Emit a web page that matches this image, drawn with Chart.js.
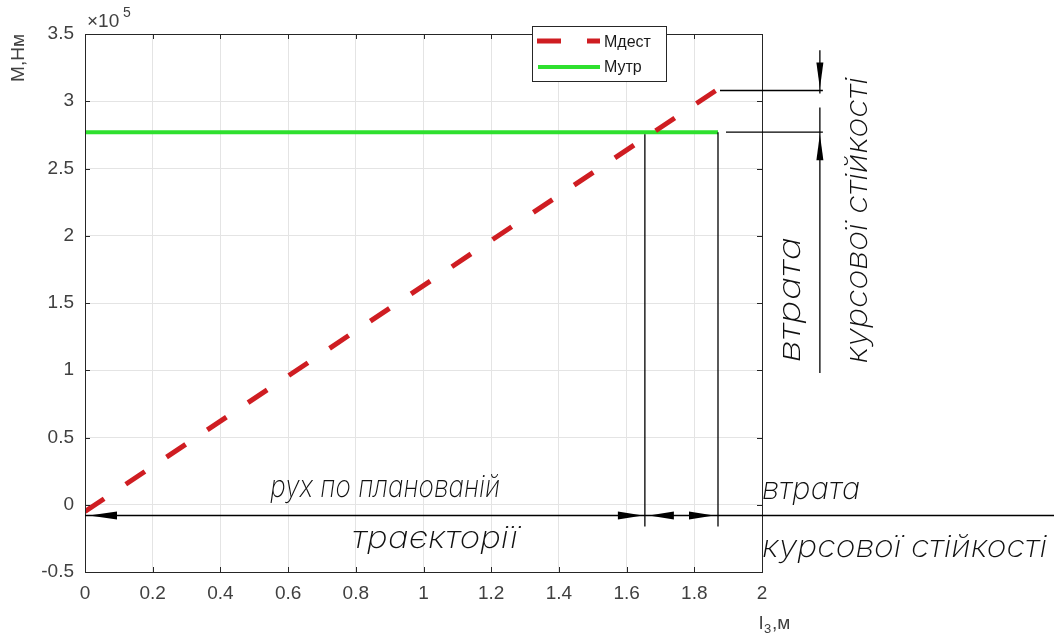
<!DOCTYPE html>
<html>
<head>
<meta charset="utf-8">
<script src="https://cdn.jsdelivr.net/npm/chart.js@4/dist/chart.umd.min.js"></script>
<style>
body { margin: 0; background: #fff; }
</style>
</head>
<body>
<canvas id="grafico" width="1054" height="637"></canvas>
<script>
// дані графіка
var xTicks = [0, 0.2, 0.4, 0.6, 0.8, 1, 1.2, 1.4, 1.6, 1.8, 2];
var yTicks = [-0.5, 0, 0.5, 1, 1.5, 2, 2.5, 3, 3.5];
var lDest = [0, 1.864];
var mDest = [-5000, 308000];
var lUtr = [0, 1.87];
var mUtr = [277000, 277000];

// розмітка (в одиницях осей)
var lCross = 1.654;
var lEnd = 1.87;
var mBase = -8000;
var lDim = 2.171;

function pts(xs, ys) {
    var out = [];
    for (let i = 0; i < xs.length; i++) {
        out.push({ x: xs[i], y: ys[i] });
    }
    return out;
}

var fontGost = '"Inter", "Roboto", "DejaVu Sans Condensed", "DejaVu Sans", sans-serif';
var fontAxis = '"Liberation Sans", Arial, sans-serif';

function textFit(ctx, str, x0, x1, base, size) {
    ctx.save();
    ctx.font = 'italic 200 ' + size + 'px ' + fontGost;
    let w = ctx.measureText(str).width;
    ctx.translate(x0, base);
    ctx.scale((x1 - x0) / w, 1);
    ctx.fillText(str, 0, 0);
    ctx.restore();
}

function textFitUp(ctx, str, base, y0, y1, size) {
    // y0 - нижній край, y1 - верхній
    ctx.save();
    ctx.font = 'italic 200 ' + size + 'px ' + fontGost;
    let w = ctx.measureText(str).width;
    ctx.translate(base, y0);
    ctx.rotate(-Math.PI / 2);
    ctx.scale((y0 - y1) / w, 1);
    ctx.fillText(str, 0, 0);
    ctx.restore();
}

function arrow(ctx, tx, ty, dx, dy, len, half) {
    // tx,ty - вістря; dx,dy - напрямок від хвоста до вістря
    ctx.beginPath();
    ctx.moveTo(tx, ty);
    ctx.lineTo(tx - dx * len - dy * half, ty - dy * len - dx * half);
    ctx.lineTo(tx - dx * len + dy * half, ty - dy * len + dx * half);
    ctx.closePath();
    ctx.fill();
}

function line(ctx, x0, y0, x1, y1) {
    ctx.beginPath();
    ctx.moveTo(x0, y0);
    ctx.lineTo(x1, y1);
    ctx.stroke();
}

var rozmitka = {
    id: 'rozmitka',
    afterDatasetsDraw(chart) {
        var ctx = chart.ctx;
        var xs = chart.scales.x, ys = chart.scales.y;
        var a = chart.chartArea;
        ctx.save();

        // рамка і засічки
        ctx.strokeStyle = '#262626';
        ctx.lineWidth = 1;
        ctx.strokeRect(a.left + 0.5, a.top + 0.5, a.right - a.left, a.bottom - a.top);
        xTicks.forEach(function (v) {
            let px = Math.round(xs.getPixelForValue(v)) + 0.5;
            line(ctx, px, a.bottom, px, a.bottom - 5);
            line(ctx, px, a.top, px, a.top + 5);
        });
        yTicks.forEach(function (v) {
            let py = Math.round(ys.getPixelForValue(v * 1e5)) + 0.5;
            line(ctx, a.left, py, a.left + 5, py);
            line(ctx, a.right, py, a.right - 5, py);
        });

        // розмірні лінії
        ctx.strokeStyle = '#000';
        ctx.fillStyle = '#000';
        ctx.lineWidth = 1.3;
        var yB = ys.getPixelForValue(mBase);
        var xC = xs.getPixelForValue(lCross);
        var xE = xs.getPixelForValue(lEnd);
        var xD = xs.getPixelForValue(lDim);
        var yR = ys.getPixelForValue(mDest[1]);
        var yG = ys.getPixelForValue(mUtr[0]);

        line(ctx, a.left, yB, chart.width, yB);
        line(ctx, xC, ys.getPixelForValue(mUtr[0]) + 2, xC, yB + 11);
        line(ctx, xE, yG, xE, yB + 11);
        line(ctx, xE + 2, yR, xD + 3, yR);
        line(ctx, xE + 8, yG, xD + 3, yG);
        line(ctx, xD, ys.getPixelForValue(338000), xD, yR + 3);
        line(ctx, xD, yR + 17, xD, ys.getPixelForValue(98000));

        arrow(ctx, a.left + 4, yB, -1, 0, 28, 4);
        arrow(ctx, xC - 2, yB, 1, 0, 25, 4);
        arrow(ctx, xC + 4, yB, -1, 0, 25, 4);
        arrow(ctx, xE - 4, yB, 1, 0, 25, 4);
        arrow(ctx, xD, yR - 2, 0, 1, 26, 3.5);
        arrow(ctx, xD, yG + 2, 0, -1, 26, 3.5);

        // підписи
        ctx.fillStyle = '#111';
        textFit(ctx, 'рух по планованій', xs.getPixelForValue(0.547), xs.getPixelForValue(1.226), ys.getPixelForValue(6000), 30);
        textFit(ctx, 'траєкторії', xs.getPixelForValue(0.789), xs.getPixelForValue(1.279), ys.getPixelForValue(-32000), 30);
        textFit(ctx, 'втрата', xs.getPixelForValue(2.0), xs.getPixelForValue(2.29), ys.getPixelForValue(4000), 30);
        textFit(ctx, 'курсової стійкості', xs.getPixelForValue(2.0), xs.getPixelForValue(2.842), ys.getPixelForValue(-39000), 30);
        textFitUp(ctx, 'втрата', xs.getPixelForValue(2.112), ys.getPixelForValue(106000), ys.getPixelForValue(199000), 30);
        textFitUp(ctx, 'курсової стійкості', xs.getPixelForValue(2.31), ys.getPixelForValue(105000), ys.getPixelForValue(318000), 30);

        ctx.restore();
    },
    afterDraw(chart) {
        var ctx = chart.ctx;
        var a = chart.chartArea;
        ctx.save();

        // легенда
        ctx.fillStyle = '#fff';
        ctx.fillRect(532, 26, 134, 55);
        ctx.strokeStyle = '#262626';
        ctx.lineWidth = 1;
        ctx.strokeRect(532.5, 26.5, 134, 55);
        ctx.lineWidth = 5;
        ctx.strokeStyle = '#cf1d22';
        ctx.setLineDash([24, 26]);
        line(ctx, 537, 41, 600, 41);
        ctx.setLineDash([]);
        ctx.strokeStyle = '#2ee02e';
        ctx.lineWidth = 4;
        line(ctx, 538, 67, 600, 67);
        ctx.fillStyle = '#1a1a1a';
        ctx.font = '16px ' + fontAxis;
        ctx.textBaseline = 'middle';
        ctx.fillText('Мдест', 604, 43);
        ctx.fillText('Мутр', 604, 68);

        // підписи осей
        ctx.fillStyle = '#404040';
        ctx.font = '19px ' + fontAxis;
        ctx.textBaseline = 'alphabetic';
        ctx.fillText('\u00d710', a.left + 2, 27);
        ctx.font = '14px ' + fontAxis;
        ctx.fillText('5', a.left + 38, 17);

        ctx.font = '19px ' + fontAxis;
        ctx.fillText('l', 759, 629);
        ctx.font = '13px ' + fontAxis;
        ctx.fillText('3', 764, 633);
        ctx.font = '19px ' + fontAxis;
        ctx.fillText(',м', 772, 629);

        ctx.translate(24, 58);
        ctx.rotate(-Math.PI / 2);
        ctx.textAlign = 'center';
        ctx.fillText('М,Нм', 0, 0);
        ctx.restore();
    }
};

var ctx = document.getElementById('grafico');

new Chart(ctx.getContext('2d'), {
    type: 'line',
    data: {
        datasets: [{
            label: 'Мдест',
            data: pts(lDest, mDest),
            borderColor: '#cf1d22',
            borderWidth: 5,
            borderDash: [23, 26],
            borderCapStyle: 'butt',
            pointRadius: 0,
            fill: false
        }, {
            label: 'Мутр',
            data: pts(lUtr, mUtr),
            borderColor: '#2ee02e',
            borderWidth: 4,
            pointRadius: 0,
            fill: false
        }]
    },
    options: {
        responsive: false,
        animation: false,
        devicePixelRatio: 1,
        layout: { padding: { top: 34, right: 292, left: 0, bottom: 0 } },
        plugins: {
            legend: { display: false },
            tooltip: { enabled: false }
        },
        scales: {
            x: {
                type: 'linear',
                min: 0,
                max: 2,
                afterFit: function (s) { s.height = 65; },
                afterBuildTicks: function (s) { s.ticks = xTicks.map(function (v) { return { value: v }; }); },
                grid: { color: '#e4e4e4', drawTicks: false },
                border: { display: false },
                ticks: {
                    padding: 10,
                    color: '#404040',
                    font: { size: 19, family: fontAxis },
                    callback: function (v) { return String(Math.round(v * 10) / 10); }
                }
            },
            y: {
                type: 'linear',
                min: -50000,
                max: 350000,
                afterFit: function (s) { s.width = 85; },
                afterBuildTicks: function (s) { s.ticks = yTicks.map(function (v) { return { value: v * 1e5 }; }); },
                grid: { color: '#e4e4e4', drawTicks: false },
                border: { display: false },
                ticks: {
                    padding: 11,
                    color: '#404040',
                    font: { size: 19, family: fontAxis },
                    callback: function (v) { return String(Math.round(v / 1e4) / 10); }
                }
            }
        }
    },
    plugins: [rozmitka]
});
</script>
</body>
</html>
